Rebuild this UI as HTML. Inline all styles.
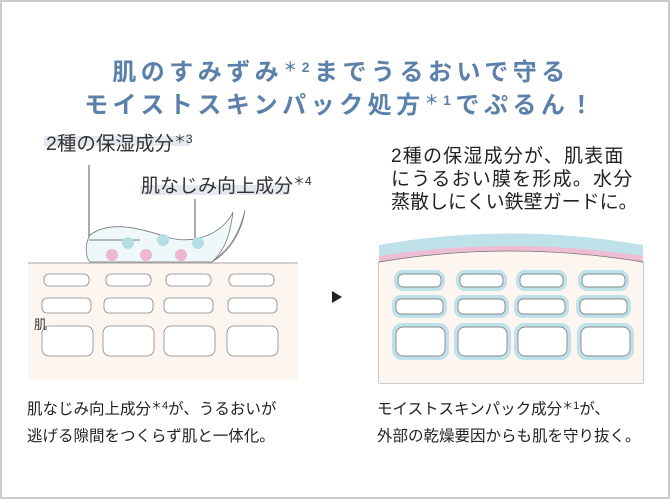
<!DOCTYPE html>
<html><head><meta charset="utf-8"><style>
html,body{margin:0;padding:0;background:#fff}
svg{display:block}
text{font-family:"Liberation Sans","Noto Sans CJK JP",sans-serif}
</style></head><body>
<svg width="670" height="499" viewBox="0 0 670 499" xmlns="http://www.w3.org/2000/svg">
<rect x="1" y="1" width="668" height="497" fill="#fff" stroke="#cccccc" stroke-width="2"/>
<g fill="#5b80aa" font-weight="bold" font-size="24" text-anchor="middle" letter-spacing="4.5">
<text x="341" y="80">肌のすみずみ<tspan font-size="14" dy="-8">＊2</tspan><tspan dy="8">までうるおいで守る</tspan></text>
<text x="341" y="113">モイストスキンパック処方<tspan font-size="14" dy="-8">＊1</tspan><tspan dy="8">でぷるん！</tspan></text>
</g>
<!-- left panel -->
<rect x="28" y="263" width="270" height="117" fill="#fdf5f0"/>
<rect x="44" y="136" width="146" height="10" fill="#e4e9f1"/>
<text x="46" y="150" font-size="19.5" fill="#333">2種の保湿成分<tspan font-size="12" dy="-7">＊3</tspan></text>
<rect x="140" y="185" width="150" height="10" fill="#e4e9f1"/>
<text x="141" y="192" font-size="19" fill="#333">肌なじみ向上成分<tspan font-size="12" dy="-7">＊4</tspan></text>
<line x1="89" y1="165" x2="89" y2="240" stroke="#555" stroke-width="1"/>
<line x1="195" y1="199" x2="195" y2="246" stroke="#555" stroke-width="1"/>
<path d="M212 262 C225 252 238 240 245 210 C242 230 232 250 212 262Z" fill="#eef7fa" stroke="#777" stroke-width="0.7"/>
<path d="M212 262 C225 250 230 235 233 212 C225 230 200 245 170 238 C140 228 110 220 90 235 C84 245 86 258 90 262Z" fill="#eef7fa" stroke="#777" stroke-width="0.8"/>
<line x1="89" y1="240" x2="140" y2="240" stroke="#555" stroke-width="0.8"/>
<g fill="#b5dde6"><circle cx="128" cy="243" r="6"/><circle cx="163" cy="240" r="6"/><circle cx="198" cy="243" r="6"/></g>
<g fill="#edb8cf"><circle cx="112" cy="255" r="6"/><circle cx="146" cy="255" r="6"/><circle cx="181" cy="255" r="6"/></g>
<line x1="28" y1="263" x2="298" y2="263" stroke="#888" stroke-width="0.8"/>
<g fill="#fff" stroke="#888" stroke-width="0.8">
<rect x="44" y="274" width="45" height="12" rx="5"/><rect x="106" y="274" width="45" height="12" rx="5"/><rect x="166" y="274" width="45" height="12" rx="5"/><rect x="229" y="274" width="45" height="12" rx="5"/>
<rect x="42" y="298" width="49" height="15" rx="5"/><rect x="104" y="298" width="49" height="15" rx="5"/><rect x="164" y="298" width="49" height="15" rx="5"/><rect x="228" y="298" width="49" height="15" rx="5"/>
<rect x="42" y="326" width="51" height="30" rx="7"/><rect x="103" y="326" width="51" height="30" rx="7"/><rect x="164" y="326" width="51" height="30" rx="7"/><rect x="227" y="326" width="51" height="30" rx="7"/>
</g>
<text x="34" y="329" font-size="13" fill="#333">肌</text>
<!-- arrow -->
<path d="M332 291 L342 297 L332 303Z" fill="#222"/>
<!-- right panel -->
<g font-size="19" fill="#222" letter-spacing="1.2">
<text x="391" y="162">2種の保湿成分が、肌表面</text>
<text x="391" y="185">にうるおい膜を形成。水分</text>
<text x="391" y="208" letter-spacing="0">蒸散しにくい鉄壁ガードに。</text>
</g>
<path d="M379 245 Q510 222 643 245 L643 383 L379 383Z" fill="#bfe2ea"/>
<path d="M379 256 Q510 236 643 256 L643 383 L379 383Z" fill="#ecbdd3"/>
<path d="M379 262 Q510 240 643 262 L643 383 L379 383Z" fill="#fdf5f0" stroke="#777" stroke-width="0.8"/>
<rect x="379" y="263" width="264" height="120" fill="#fdf5f0"/>
<g fill="#fff" stroke="#bfe2ea" stroke-width="4">
<rect x="396" y="272" width="47" height="17" rx="7"/><rect x="458" y="272" width="47" height="17" rx="7"/><rect x="518" y="272" width="47" height="17" rx="7"/><rect x="580" y="272" width="47" height="17" rx="7"/>
<rect x="394" y="297" width="51" height="19" rx="7"/><rect x="456" y="297" width="51" height="19" rx="7"/><rect x="516" y="297" width="51" height="19" rx="7"/><rect x="578" y="297" width="51" height="19" rx="7"/>
<rect x="394" y="325" width="53" height="33" rx="8"/><rect x="456" y="325" width="53" height="33" rx="8"/><rect x="516" y="325" width="53" height="33" rx="8"/><rect x="579" y="325" width="53" height="33" rx="8"/>
</g>
<g fill="none" stroke="#888" stroke-width="0.9">
<rect x="398" y="274" width="43" height="13" rx="5"/><rect x="460" y="274" width="43" height="13" rx="5"/><rect x="520" y="274" width="43" height="13" rx="5"/><rect x="582" y="274" width="43" height="13" rx="5"/>
<rect x="396" y="299" width="47" height="15" rx="5"/><rect x="458" y="299" width="47" height="15" rx="5"/><rect x="518" y="299" width="47" height="15" rx="5"/><rect x="580" y="299" width="47" height="15" rx="5"/>
<rect x="396" y="327" width="49" height="29" rx="7"/><rect x="458" y="327" width="49" height="29" rx="7"/><rect x="518" y="327" width="49" height="29" rx="7"/><rect x="581" y="327" width="49" height="29" rx="7"/>
</g>
<!-- captions -->
<g font-size="15.5" fill="#222">
<text x="27" y="414">肌なじみ向上成分<tspan font-size="11" dy="-5">＊4</tspan><tspan dy="5">が、うるおいが</tspan></text>
<text x="27" y="441">逃げる隙間をつくらず肌と一体化。</text>
<text x="377" y="414">モイストスキンパック成分<tspan font-size="11" dy="-5">＊1</tspan><tspan dy="5">が、</tspan></text>
<text x="377" y="441">外部の乾燥要因からも肌を守り抜く。</text>
</g>
</svg>
</body></html>
